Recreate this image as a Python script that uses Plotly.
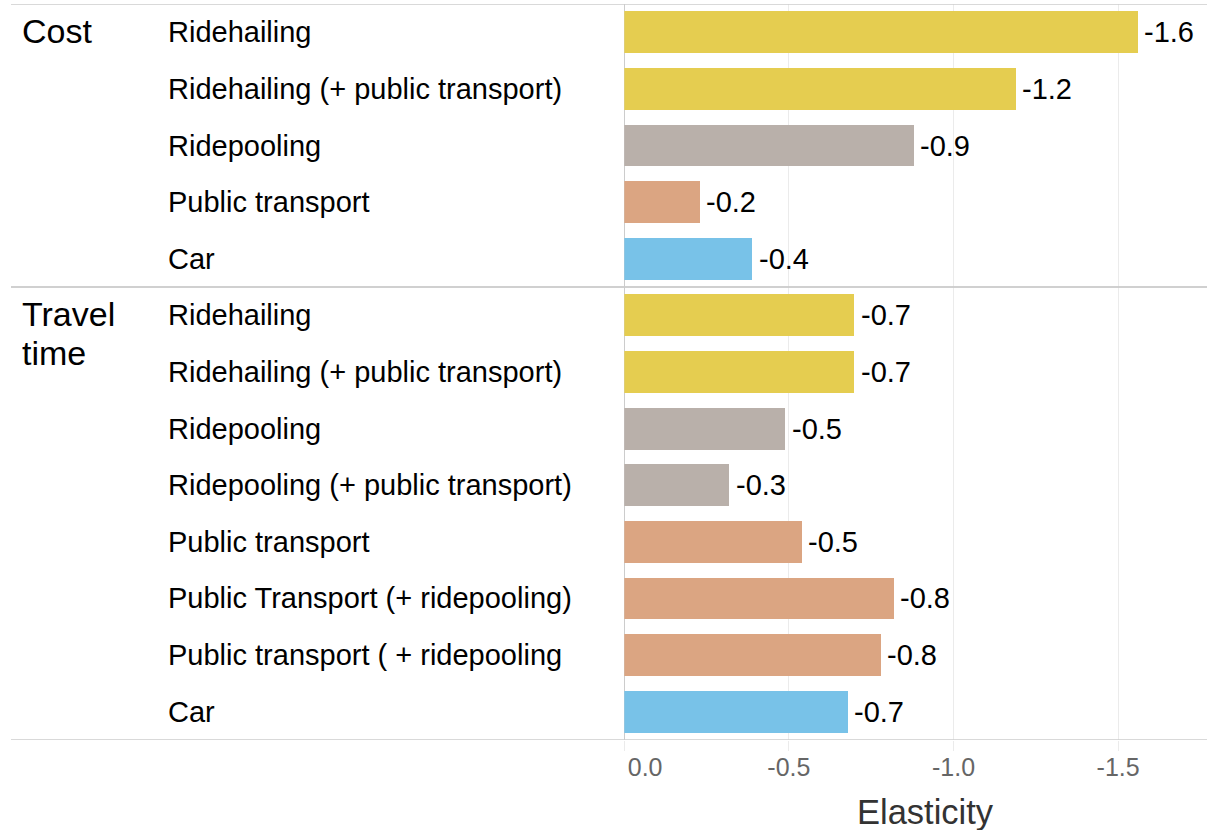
import plotly.graph_objects as go

# Elasticity estimates per attribute group and mode
groups = ["Cost"] * 5 + ["Travel time"] * 8
modes = [
    "Ridehailing",
    "Ridehailing (+ public transport)",
    "Ridepooling",
    "Public transport",
    "Car",
    "Ridehailing",
    "Ridehailing (+ public transport)",
    "Ridepooling",
    "Ridepooling (+ public transport)",
    "Public transport",
    "Public Transport (+ ridepooling)",
    "Public transport ( + ridepooling",
    "Car",
]
elasticity = [-1.56, -1.19, -0.88, -0.23, -0.39,
              -0.70, -0.70, -0.49, -0.32, -0.54, -0.82, -0.78, -0.68]
mode_type = ["ridehailing", "ridehailing", "ridepooling", "pt", "car",
             "ridehailing", "ridehailing", "ridepooling", "ridepooling",
             "pt", "pt", "pt", "car"]
type_colors = {
    "ridehailing": "#E5CD50",
    "ridepooling": "#B9B0AA",
    "pt": "#DBA582",
    "car": "#78C2E8",
}
x_ticks = [0, -0.5, -1.0, -1.5]
x_tick_labels = ["\u00a0" * 6 + "0.0", "-0.5", "-1.0", "-1.5"]

FONT = "Liberation Sans, Arial, sans-serif"
W, H = 1207, 830
rows = list(range(len(modes)))

fig = go.Figure()
fig.add_trace(go.Bar(
    x=elasticity,
    y=rows,
    orientation="h",
    width=0.74,
    marker=dict(color=[type_colors[t] for t in mode_type], line=dict(width=0)),
    hoverinfo="skip",
))

# Value labels just past the end of each bar
for r, v in zip(rows, elasticity):
    fig.add_annotation(x=v, xref="x", y=r, yref="y", text=f"{v:.1f}",
                       showarrow=False, xanchor="left", yanchor="middle",
                       xshift=4, font=dict(family=FONT, size=29, color="#000000"))

# Mode labels, left aligned in the margin
for r, m in zip(rows, modes):
    fig.add_annotation(x=166 / W, xref="paper", y=r, yref="y", text=m,
                       showarrow=False, xanchor="left", yanchor="middle",
                       font=dict(family=FONT, size=29, color="#000000"))

# Group labels and separators between groups
group_names = []
for g in groups:
    if g not in group_names:
        group_names.append(g)
for g in group_names:
    first = groups.index(g)
    last = len(groups) - 1 - groups[::-1].index(g)
    for i, w in enumerate(g.split(" ")):
        fig.add_annotation(x=20 / W, xref="paper", y=first - 0.03 + i * 0.7, yref="y",
                           text=w, showarrow=False, xanchor="left", yanchor="middle",
                           font=dict(family=FONT, size=34, color="#000000"))
    for yy in (first - 0.5, last + 0.5):
        fig.add_shape(type="line", xref="paper", x0=11 / W, x1=1,
                      yref="y", y0=yy, y1=yy,
                      line=dict(color="#CCCCCC", width=1.5), layer="above")

fig.add_annotation(x=925 / W, xref="paper", y=-0.098, yref="paper",
                   text="Elasticity", showarrow=False, xanchor="center",
                   yanchor="middle", font=dict(family=FONT, size=34.5, color="#333333"))

fig.update_layout(
    width=W,
    height=H,
    margin=dict(l=0, r=0, t=4, b=90, autoexpand=False),
    paper_bgcolor="white",
    plot_bgcolor="white",
    showlegend=False,
    bargap=0,
    xaxis=dict(
        domain=[624.3 / W, 1],
        range=[0, -1.77],
        automargin=False,
        tickvals=x_ticks,
        ticktext=x_tick_labels,
        ticks="outside",
        ticklen=10,
        tickcolor="#EBEBEB",
        tickwidth=1,
        ticklabelstandoff=-5,
        tickfont=dict(family=FONT, size=25, color="#666666"),
        showgrid=True,
        gridcolor="#EBEBEB",
        gridwidth=1,
        zeroline=True,
        zerolinecolor="#CCCCCC",
        zerolinewidth=1,
        showline=False,
        fixedrange=True,
    ),
    yaxis=dict(
        range=[len(modes) - 0.5, -0.5],
        automargin=False,
        showticklabels=False,
        showgrid=False,
        zeroline=False,
        showline=False,
        ticks="",
        fixedrange=True,
    ),
)

fig.write_html("out.html")
